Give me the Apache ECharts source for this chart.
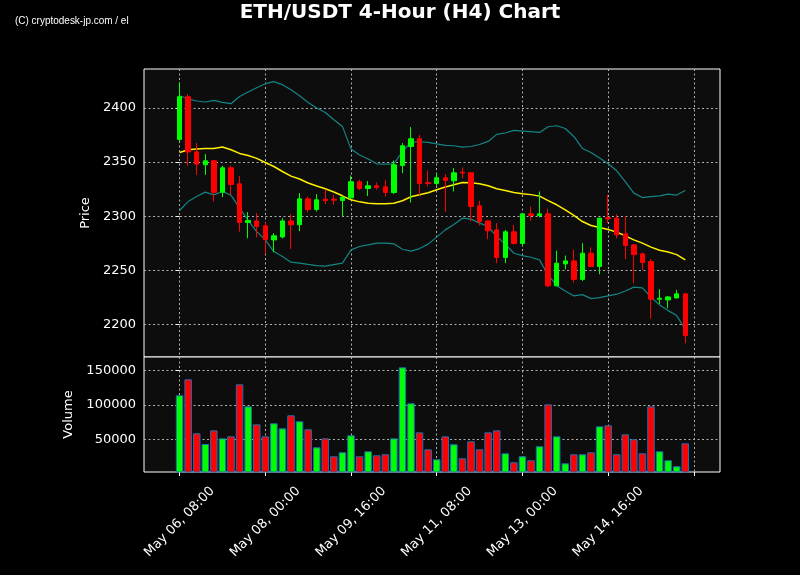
<!DOCTYPE html>
<html>
<head>
<meta charset="utf-8">
<script src="https://cdn.jsdelivr.net/npm/echarts@6/dist/echarts.min.js"></script>
<style>html,body{margin:0;padding:0;background:#000;}#c{width:800px;height:575px;}</style>
</head>
<body>
<div id="c"></div>
<script>
// Candle index 0 = May 06 08:00, 4-hour steps
const tickIdx = [0, 10, 20, 30, 40, 50, 60];
const tickLabels = ['May 06, 08:00', 'May 08, 00:00', 'May 09, 16:00', 'May 11, 08:00', 'May 13, 00:00', 'May 14, 16:00', ''];

const opens  = [2371.0,2410.5,2359.5,2347.5,2351.2,2322.2,2344.7,2329.9,2294.1,2295.6,2291.0,2278.0,2280.8,2295.6,2292.0,2316.0,2306.1,2315.7,2315.7,2314.4,2316.9,2331.8,2325.6,2328.1,2327.1,2321.9,2346.9,2364.4,2371.6,2331.0,2330.2,2335.5,2332.7,2340.7,2340.1,2309.5,2295.6,2287.3,2261.7,2285.5,2274.7,2302.1,2300.6,2302.1,2235.5,2255.8,2258.6,2241.5,2265.7,2253.4,2298.6,2298.1,2283.6,2273.4,2265.1,2258.0,2223.1,2222.5,2224.3,2228.1];
const closes = [2410.5,2359.3,2348.1,2351.2,2322.0,2344.7,2329.3,2294.1,2296.0,2290.4,2278.3,2281.8,2295.6,2292.0,2316.0,2306.1,2315.1,2314.4,2314.8,2317.6,2331.8,2325.6,2328.1,2326.6,2321.9,2347.5,2365.1,2371.6,2330.2,2330.2,2335.5,2333.0,2340.1,2339.8,2308.9,2295.0,2286.4,2261.7,2285.5,2274.7,2302.1,2300.6,2302.1,2235.5,2256.5,2258.6,2241.5,2265.7,2253.4,2298.1,2297.5,2282.7,2272.8,2264.4,2257.0,2223.1,2224.0,2225.3,2228.1,2189.5];
const lows   = [2369.0,2346.6,2338.2,2338.2,2313.5,2317.6,2319.7,2285.7,2279.6,2280.4,2265.1,2266.7,2279.3,2269.8,2286.1,2303.7,2304.3,2311.0,2310.4,2299.6,2316.0,2324.1,2318.5,2324.4,2318.2,2320.4,2339.8,2312.6,2319.7,2327.4,2328.0,2304.0,2322.8,2335.2,2295.0,2291.3,2278.7,2256.5,2256.5,2273.8,2273.2,2295.6,2299.0,2234.3,2235.5,2250.9,2238.5,2240.0,2252.8,2246.2,2293.5,2279.6,2260.2,2237.9,2250.3,2205.2,2218.8,2214.8,2224.0,2182.4];
const highs  = [2423.7,2413.0,2367.6,2357.4,2352.0,2346.6,2346.6,2337.3,2303.7,2302.8,2294.1,2284.3,2298.1,2301.9,2321.3,2318.2,2320.4,2324.4,2319.7,2317.6,2337.6,2333.6,2332.4,2331.2,2333.3,2351.5,2367.6,2382.4,2375.0,2342.2,2339.8,2338.9,2344.4,2345.0,2340.7,2314.2,2296.0,2293.5,2287.3,2292.0,2303.0,2308.9,2322.8,2306.8,2268.1,2263.5,2269.0,2275.0,2271.2,2298.6,2319.7,2301.9,2300.3,2274.3,2266.3,2260.2,2232.4,2226.2,2231.8,2228.7];
const volumes = [113800,137000,58700,43200,63000,51400,54300,129700,97800,71700,54300,73200,65900,84800,76100,64500,38400,51400,25400,31200,55800,25400,32600,26800,28300,51400,154300,102200,60100,35500,21000,54300,42800,22500,47100,35500,60100,63000,29700,16700,25400,19600,39900,100700,54300,15200,28300,28300,31200,68800,70300,28300,57200,50000,29700,97800,32600,19600,10900,44200];
const maLine = [2358.9,2361.4,2362.0,2362.6,2362.6,2363.9,2361.4,2358.0,2356.1,2353.4,2349.6,2345.9,2341.3,2337.0,2334.3,2330.6,2327.8,2325.3,2322.3,2318.8,2315.1,2313.2,2312.0,2311.4,2311.4,2312.0,2314.2,2317.9,2319.7,2321.6,2324.4,2326.9,2329.0,2331.1,2330.8,2329.9,2328.1,2325.3,2323.7,2321.9,2320.7,2319.9,2318.5,2314.4,2310.5,2305.8,2300.6,2295.0,2291.3,2289.5,2287.6,2285.2,2281.8,2278.0,2275.0,2271.3,2268.5,2266.9,2264.4,2259.5];
const upperBand = [2411.4,2408.3,2406.5,2405.6,2407.0,2405.2,2404.0,2410.7,2414.8,2418.8,2422.5,2424.4,2421.6,2417.0,2411.4,2405.2,2400.0,2395.9,2389.2,2383.0,2362.0,2356.5,2352.8,2348.4,2348.1,2348.4,2359.8,2368.5,2368.8,2368.2,2366.9,2365.4,2365.1,2363.9,2364.4,2366.3,2369.1,2375.6,2376.9,2379.3,2378.7,2378.1,2377.4,2382.7,2383.6,2381.1,2373.7,2362.6,2358.9,2353.7,2348.4,2341.9,2332.0,2321.3,2317.2,2318.1,2318.8,2320.4,2319.5,2323.7];
const lowerBand = [2305.2,2313.5,2318.1,2322.2,2319.7,2322.8,2319.4,2307.4,2296.0,2285.7,2278.0,2267.2,2262.6,2257.4,2256.5,2255.3,2254.3,2253.7,2255.2,2256.5,2268.8,2271.9,2273.4,2275.0,2275.0,2274.4,2269.4,2267.6,2270.0,2274.1,2280.6,2287.3,2292.2,2298.1,2297.2,2293.5,2290.4,2281.1,2274.1,2265.7,2263.5,2262.0,2259.5,2245.6,2235.7,2230.8,2226.2,2227.4,2223.7,2224.6,2226.2,2227.8,2230.8,2234.3,2233.7,2225.0,2217.9,2212.6,2208.0,2195.4];
const priceTicks = [2200, 2250, 2300, 2350, 2400];
const volumeTicks = [50000, 100000, 150000];

const UP = '#00ff00', DOWN = '#ff0000';
const candleData = opens.map((o, i) => [i, o, closes[i], lows[i], highs[i]]);
const volData = volumes.map((v, i) => ({
  value: [i, v],
  itemStyle: { color: closes[i] >= opens[i] ? UP : DOWN }
}));
const toXY = arr => arr.map((v, i) => [i, v]);

const gridLine = { show: true, lineStyle: { color: '#b0b0b0', width: 1, type: [2, 2.5] } };
const FONT = 'DejaVu Sans';
const plain = v => String(Math.round(v));

const chart = echarts.init(document.getElementById('c'), null, { renderer: 'canvas' });
chart.setOption({
  backgroundColor: '#000000',
  animation: false,
  title: {
    text: 'ETH/USDT 4-Hour (H4) Chart',
    left: 'center', top: -2,
    textStyle: { color: '#ffffff', fontSize: 20, fontWeight: 'bold', fontFamily: FONT }
  },
  graphic: [{
    type: 'text', left: 15, top: 16, scaleX: 0.95,
    style: { text: '(C) cryptodesk-jp.com / el', fill: '#ffffff', fontSize: 10.5, fontFamily: 'Liberation Sans Narrow, Liberation Sans, sans-serif' }
  }],
  grid: [
    { left: 144, top: 69, width: 576, height: 288, show: true, backgroundColor: '#0d0d0d', borderColor: '#ffffff', borderWidth: 1 },
    { left: 144, top: 357, width: 576, height: 115, show: true, backgroundColor: '#0d0d0d', borderColor: '#ffffff', borderWidth: 1 }
  ],
  xAxis: [
    {
      type: 'value', gridIndex: 0, min: -4.15, max: 63.05,
      axisLine: { show: false },
      axisTick: { show: false, customValues: tickIdx },
      axisLabel: { show: false, customValues: tickIdx },
      splitLine: gridLine
    },
    {
      type: 'value', gridIndex: 1, min: -4.15, max: 63.05,
      axisLine: { show: false },
      axisTick: { show: true, length: 4, customValues: tickIdx, lineStyle: { color: '#ffffff' } },
      axisLabel: {
        show: true, customValues: tickIdx, rotate: 45, color: '#ffffff', fontSize: 13, fontFamily: FONT,
        margin: 50, align: 'center', verticalAlign: 'middle',
        formatter: v => tickLabels[tickIdx.indexOf(Math.round(v))] || ''
      },
      splitLine: gridLine
    }
  ],
  yAxis: [
    {
      type: 'value', gridIndex: 0, min: 2169.7, max: 2436.1,
      name: 'Price', nameLocation: 'middle', nameGap: 50,
      nameTextStyle: { color: '#ffffff', fontSize: 13, fontFamily: FONT },
      axisLine: { show: false },
      axisTick: { show: true, length: 4, customValues: priceTicks, lineStyle: { color: '#ffffff' } },
      axisLabel: { customValues: priceTicks, color: '#ffffff', fontSize: 13, fontFamily: FONT, margin: 8, formatter: plain },
      splitLine: gridLine
    },
    {
      type: 'value', gridIndex: 1, min: 2600, max: 169300,
      name: 'Volume', nameLocation: 'middle', nameGap: 69,
      nameTextStyle: { color: '#ffffff', fontSize: 13, fontFamily: FONT },
      axisLine: { show: false },
      axisTick: { show: true, length: 4, customValues: volumeTicks, lineStyle: { color: '#ffffff' } },
      axisLabel: { customValues: volumeTicks, color: '#ffffff', fontSize: 13, fontFamily: FONT, margin: 8, formatter: plain },
      splitLine: gridLine
    }
  ],
  series: [
    {
      type: 'line', xAxisIndex: 0, yAxisIndex: 0, data: toXY(upperBand),
      showSymbol: false, lineStyle: { color: '#148585', width: 1.2 }, z: 2
    },
    {
      type: 'line', xAxisIndex: 0, yAxisIndex: 0, data: toXY(lowerBand),
      showSymbol: false, lineStyle: { color: '#148585', width: 1.2 }, z: 2
    },
    {
      type: 'line', xAxisIndex: 0, yAxisIndex: 0, data: toXY(maLine),
      showSymbol: false, lineStyle: { color: '#ffee00', width: 1.5 }, z: 3
    },
    {
      type: 'candlestick', xAxisIndex: 0, yAxisIndex: 0,
      data: candleData, encode: { x: 0, y: [1, 2, 3, 4] },
      barWidth: 5,
      itemStyle: { color: UP, color0: DOWN, borderColor: UP, borderColor0: DOWN, borderWidth: 1 },
      z: 4
    },
    {
      type: 'bar', xAxisIndex: 1, yAxisIndex: 1, data: volData,
      barWidth: 7.5,
      itemStyle: { borderColor: '#1f6fb4', borderWidth: 1 }
    }
  ]
});
</script>
</body>
</html>
